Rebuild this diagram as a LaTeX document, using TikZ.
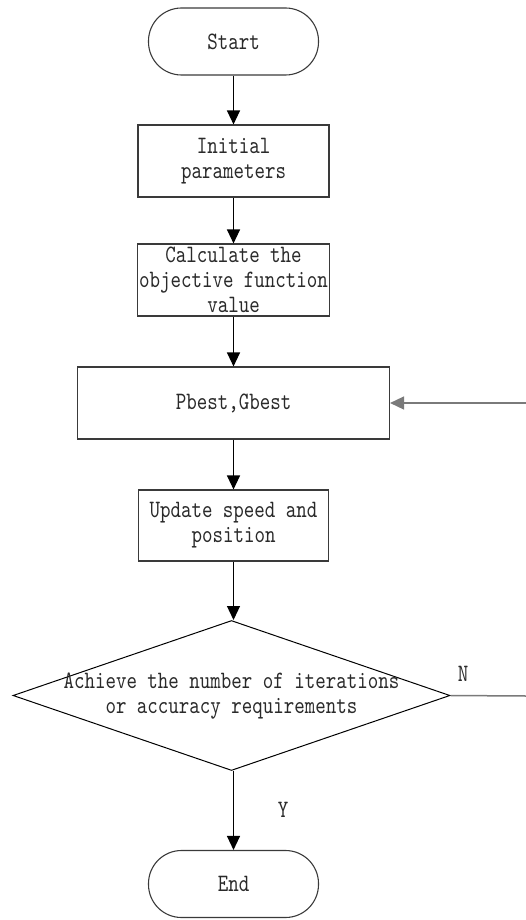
\documentclass[tikz,border=0pt]{standalone}
\usepackage{fontspec}
\usetikzlibrary{arrows.meta,shapes.geometric}
\newfontfamily\flowfont{lmmono10-regular.otf}[FakeStretch=0.8]
\definecolor{edgegray}{HTML}{3A3A3A}
\definecolor{loopgray}{HTML}{7A7A7A}
\definecolor{inkgray}{HTML}{2A2A2A}
\tikzset{
  x=1pt, y=-1pt,
  every node/.style={font=\flowfont\fontsize{25}{25}\selectfont, text=inkgray},
  terminal/.style={draw=edgegray, line width=1.1pt, rounded corners=33pt,
    minimum width=170pt, minimum height=67pt, inner sep=0pt},
  stepbox/.style={draw=edgegray, line width=1.1pt, minimum height=72pt,
    inner sep=0pt, align=center},
  decision/.style={draw=black, line width=1pt, diamond, aspect=2.913,
    minimum width=437pt, minimum height=150pt, inner sep=0pt},
  flow/.style={draw=black, line width=1.2pt,
    -{Triangle[length=14pt,width=13pt]}},
  loopline/.style={draw=loopgray, line width=1.5pt},
  branch/.style={font=\flowfont\fontsize{25}{25}\selectfont}
}
\begin{document}
\begin{tikzpicture}
\useasboundingbox (0,0) rectangle (526,920);

% main column of the flowchart
\node[terminal] (start) at (233.5,41.5) {Start};
\node[stepbox, minimum width=191pt] (init) at (233.5,161)
  {Initial\\parameters};
\node[stepbox, minimum width=192pt] (calc) at (233.5,280)
  {Calculate the\\objective function\\value};
\node[stepbox, minimum width=312pt] (pbest) at (233.5,403) {Pbest,Gbest};
\node[stepbox, minimum width=190pt, minimum height=71pt] (update) at (233.5,525.5)
  {Update speed and\\position};
\node[decision] (dec) at (231.5,695.5) {};
\node[align=center] (dectext) at (231.5,696)
  {Achieve the number of iterations\\or accuracy requirements};
\node[terminal] (finish) at (233.5,884) {End};

% connectors
\draw[flow] (start) -- (init);
\draw[flow] (init) -- (calc);
\draw[flow] (calc) -- (pbest);
\draw[flow] (pbest) -- (update);
\draw[flow] (update.south) -- (update.south |- dec.north);
\draw[flow] (dec.south -| finish.north) -- (finish);

% loop back on the right
\coordinate (nout) at (526,696);
\coordinate (pin) at (526,403);
\draw[loopline] (dec.east) -- (nout);
\draw[loopline, -{Triangle[length=14pt,width=13pt]}] (pin) -- (pbest.east);

% branch labels
\node[branch] (nlab) at (463,674) {N};
\node[branch] (ylab) at (283,810) {Y};
\end{tikzpicture}
\end{document}
